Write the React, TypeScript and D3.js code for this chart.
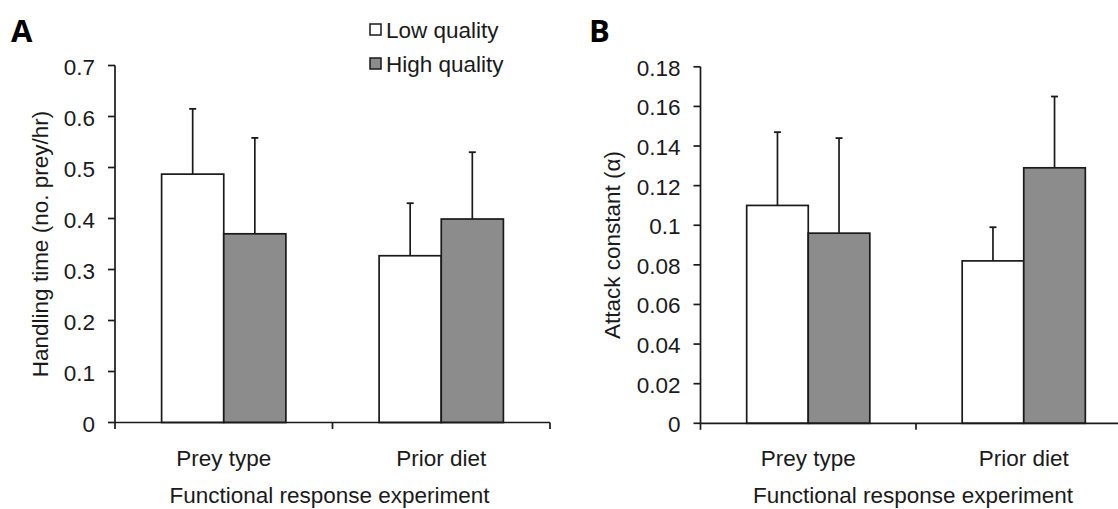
import * as d3 from 'd3';

// Values (means, upper error bars)
const CATEGORIES = ['Prey type', 'Prior diet'];
const SERIES = ['Low quality', 'High quality'];

const HANDLING_LOW = [0.487, 0.327];
const HANDLING_HIGH = [0.37, 0.399];
const HANDLING_LOW_ERR = [0.128, 0.103];
const HANDLING_HIGH_ERR = [0.188, 0.131];

const ATTACK_LOW = [0.11, 0.082];
const ATTACK_HIGH = [0.096, 0.129];
const ATTACK_LOW_ERR = [0.037, 0.017];
const ATTACK_HIGH_ERR = [0.048, 0.036];

const HANDLING_TICKS = [0, 0.1, 0.2, 0.3, 0.4, 0.5, 0.6, 0.7];
const HANDLING_TICK_LABELS = ['0', '0.1', '0.2', '0.3', '0.4', '0.5', '0.6', '0.7'];
const ATTACK_TICKS = [0, 0.02, 0.04, 0.06, 0.08, 0.1, 0.12, 0.14, 0.16, 0.18];
const ATTACK_TICK_LABELS = ['0', '0.02', '0.04', '0.06', '0.08', '0.1', '0.12', '0.14', '0.16', '0.18'];

const FILLS = ['#ffffff', '#8c8c8c'];
const INK = '#1a1a1a';
const FONT = '"Liberation Sans", Arial, sans-serif';
const FS = 22.5;

type PanelProps = {
  letter: string;
  x0: number;
  x1: number;
  yTop: number;
  yBottom: number;
  max: number;
  ticks: number[];
  tickLabels: string[];
  values: number[][];
  errors: number[][];
  yTitle: string;
  yTitleX: number;
  letterX: number;
};

function Panel(p: PanelProps) {
  const x = d3.scaleBand().domain(CATEGORIES).range([p.x0, p.x1]).padding(0);
  const inner = d3
    .scaleBand()
    .domain(SERIES)
    .range([0, x.bandwidth()])
    .paddingInner(0)
    .paddingOuter(0.75);
  const y = d3.scaleLinear().domain([0, p.max]).range([p.yBottom, p.yTop]);
  const boundaries = [...CATEGORIES.map((c) => x(c) as number), p.x1];
  const midY = (p.yTop + p.yBottom) / 2;

  return (
    <g>
      <text x={p.letterX} y={42} fontFamily='"Open Sans", sans-serif' fontWeight={700} fontSize={31} fill="#000">
        {p.letter}
      </text>

      {CATEGORIES.map((c, ci) =>
        SERIES.map((s, si) => {
          const bx = (x(c) as number) + (inner(s) as number);
          const v = p.values[si][ci];
          const top = y(v + p.errors[si][ci]);
          const cx = bx + inner.bandwidth() / 2;
          return (
            <g key={c + s}>
              <line x1={cx} x2={cx} y1={y(v)} y2={top} stroke={INK} strokeWidth={1.7} />
              <line x1={cx - 3.5} x2={cx + 3.5} y1={top} y2={top} stroke={INK} strokeWidth={1.8} />
              <rect
                x={bx}
                y={y(v)}
                width={inner.bandwidth()}
                height={y(0) - y(v)}
                fill={FILLS[si]}
                stroke={INK}
                strokeWidth={1.7}
              />
            </g>
          );
        })
      )}

      {/* y axis */}
      <line x1={p.x0} x2={p.x0} y1={p.yTop} y2={p.yBottom} stroke={INK} strokeWidth={1.7} />
      {p.ticks.map((t, i) => (
        <g key={t}>
          <line x1={p.x0 - 7} x2={p.x0} y1={y(t)} y2={y(t)} stroke={INK} strokeWidth={1.7} />
          <text
            x={p.x0 - 20}
            y={y(t)}
            dy="0.4em"
            textAnchor="end"
            fontFamily={FONT}
            fontSize={FS}
            fill="#1a1a1a"
          >
            {p.tickLabels[i]}
          </text>
        </g>
      ))}

      {/* x axis */}
      <line x1={p.x0} x2={p.x1} y1={p.yBottom} y2={p.yBottom} stroke={INK} strokeWidth={1.7} />
      {boundaries.map((b) => (
        <line key={b} x1={b} x2={b} y1={p.yBottom} y2={p.yBottom + 6.5} stroke={INK} strokeWidth={1.7} />
      ))}
      {CATEGORIES.map((c) => (
        <text
          key={c}
          x={(x(c) as number) + x.bandwidth() / 2}
          y={p.yBottom + 43}
          textAnchor="middle"
          fontFamily={FONT}
          fontSize={FS}
          fill="#1a1a1a"
        >
          {c}
        </text>
      ))}
      <text
        x={(x(CATEGORIES[1]) as number) - 3}
        y={p.yBottom + 80}
        textAnchor="middle"
        fontFamily={FONT}
        fontSize={FS}
        fill="#1a1a1a"
      >
        Functional response experiment
      </text>
      <text
        transform={`translate(${p.yTitleX},${midY}) rotate(-90)`}
        textAnchor="middle"
        fontFamily={FONT}
        fontSize={FS}
        fill="#1a1a1a"
      >
        {p.yTitle}
      </text>
    </g>
  );
}

export default function App() {
  return (
    <svg
      width={1118}
      height={509}
      viewBox="0 0 1118 509"
      style={{ position: 'absolute', left: 0, top: 0, background: '#fff' }}
    >
      <Panel
        letter="A"
        letterX={11}
        x0={115}
        x1={550}
        yTop={65.5}
        yBottom={422.5}
        max={0.7}
        ticks={HANDLING_TICKS}
        tickLabels={HANDLING_TICK_LABELS}
        values={[HANDLING_LOW, HANDLING_HIGH]}
        errors={[HANDLING_LOW_ERR, HANDLING_HIGH_ERR]}
        yTitle="Handling time (no. prey/hr)"
        yTitleX={48}
      />
      <Panel
        letter="B"
        letterX={589}
        x0={700.5}
        x1={1131.5}
        yTop={66.8}
        yBottom={423.3}
        max={0.18}
        ticks={ATTACK_TICKS}
        tickLabels={ATTACK_TICK_LABELS}
        values={[ATTACK_LOW, ATTACK_HIGH]}
        errors={[ATTACK_LOW_ERR, ATTACK_HIGH_ERR]}
        yTitle="Attack constant (α)"
        yTitleX={620}
      />
      {/* legend */}
      {SERIES.map((s, i) => (
        <g key={s}>
          <rect x={370} y={24 + i * 34} width={11} height={11} fill={FILLS[i]} stroke={INK} strokeWidth={1.5} />
          <text x={386} y={37.5 + i * 34} fontFamily={FONT} fontSize={FS} fill="#1a1a1a">
            {s}
          </text>
        </g>
      ))}
    </svg>
  );
}
